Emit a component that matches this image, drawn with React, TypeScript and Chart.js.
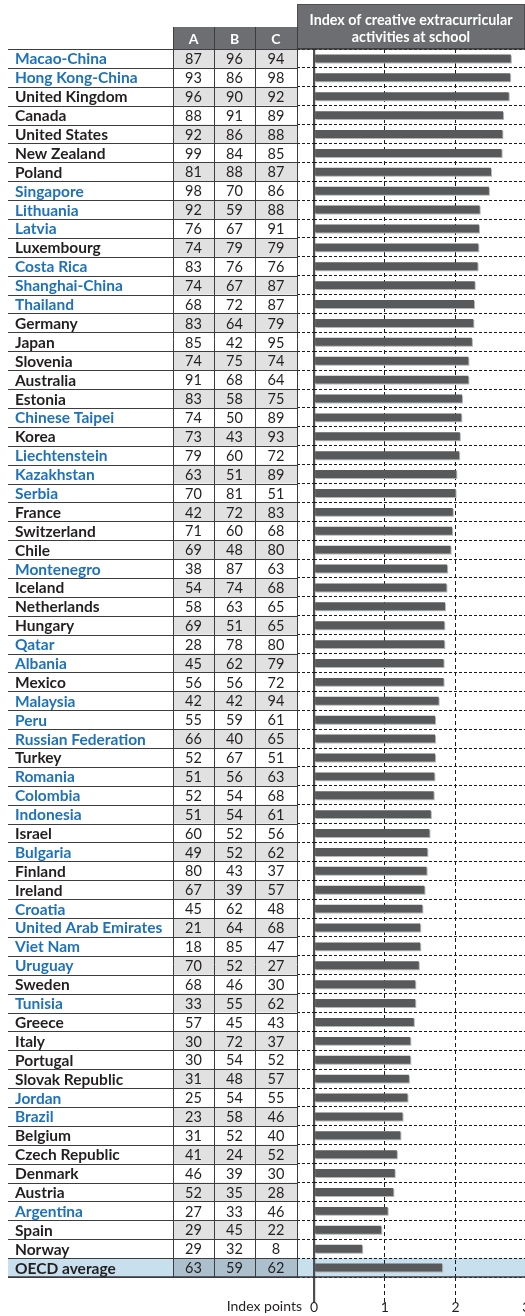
import React, { useEffect, useRef } from "react";
import { Chart, registerables } from "chart.js";

Chart.register(...registerables);

const COUNTRIES: string[] = [
  "Macao-China", "Hong Kong-China", "United Kingdom", "Canada", "United States", "New Zealand", "Poland",
  "Singapore", "Lithuania", "Latvia", "Luxembourg", "Costa Rica", "Shanghai-China", "Thailand", "Germany",
  "Japan", "Slovenia", "Australia", "Estonia", "Chinese Taipei", "Korea", "Liechtenstein", "Kazakhstan",
  "Serbia", "France", "Switzerland", "Chile", "Montenegro", "Iceland", "Netherlands", "Hungary", "Qatar",
  "Albania", "Mexico", "Malaysia", "Peru", "Russian Federation", "Turkey", "Romania", "Colombia",
  "Indonesia", "Israel", "Bulgaria", "Finland", "Ireland", "Croatia", "United Arab Emirates", "Viet Nam",
  "Uruguay", "Sweden", "Tunisia", "Greece", "Italy", "Portugal", "Slovak Republic", "Jordan", "Brazil",
  "Belgium", "Czech Republic", "Denmark", "Austria", "Argentina", "Spain", "Norway", "OECD average",
];

// 1 = partner country/economy (blue label), 0 = OECD country
const PARTNER: number[] = [
  1, 1, 0, 0, 0, 0, 0, 1, 1, 1, 0, 1, 1, 1, 0, 0, 0, 0, 0, 1, 0, 1, 1, 1, 0, 0, 0, 1, 0, 0, 0, 1,
  1, 0, 1, 1, 1, 0, 1, 1, 1, 0, 1, 0, 0, 1, 1, 1, 1, 0, 1, 0, 0, 0, 0, 1, 1, 0, 0, 0, 0, 1, 0, 0, 0,
];

const COL_A: number[] = [
  87, 93, 96, 88, 92, 99, 81, 98, 92, 76, 74, 83, 74, 68, 83, 85, 74, 91, 83, 74, 73, 79, 63, 70, 42, 71,
  69, 38, 54, 58, 69, 28, 45, 56, 42, 55, 66, 52, 51, 52, 51, 60, 49, 80, 67, 45, 21, 18, 70, 68, 33, 57,
  30, 30, 31, 25, 23, 31, 41, 46, 52, 27, 29, 29, 63,
];
const COL_B: number[] = [
  96, 86, 90, 91, 86, 84, 88, 70, 59, 67, 79, 76, 67, 72, 64, 42, 75, 68, 58, 50, 43, 60, 51, 81, 72, 60,
  48, 87, 74, 63, 51, 78, 62, 56, 42, 59, 40, 67, 56, 54, 54, 52, 52, 43, 39, 62, 64, 85, 52, 46, 55, 45,
  72, 54, 48, 54, 58, 52, 24, 39, 35, 33, 45, 32, 59,
];
const COL_C: number[] = [
  94, 98, 92, 89, 88, 85, 87, 86, 88, 91, 79, 76, 87, 87, 79, 95, 74, 64, 75, 89, 93, 72, 89, 51, 83, 68,
  80, 63, 68, 65, 65, 80, 79, 72, 94, 61, 65, 51, 63, 68, 61, 56, 62, 37, 57, 48, 68, 47, 27, 30, 62, 43,
  37, 52, 57, 55, 46, 40, 52, 30, 28, 46, 22, 8, 62,
];
const COL_HEADERS: string[] = ["A", "B", "C"];

const INDEX_VALUES: number[] = [
  2.78, 2.77, 2.75, 2.67, 2.66, 2.65, 2.5, 2.47, 2.34, 2.33, 2.32, 2.31, 2.27,
  2.26, 2.25, 2.23, 2.18, 2.18, 2.09, 2.08, 2.06, 2.05, 2.01, 2.0, 1.96, 1.95, 1.93,
  1.88, 1.87, 1.85, 1.84, 1.84, 1.83, 1.83, 1.76, 1.71, 1.71, 1.71, 1.7, 1.69,
  1.65, 1.63, 1.6, 1.59, 1.56, 1.53, 1.5, 1.5, 1.48, 1.43, 1.43, 1.41, 1.36,
  1.36, 1.34, 1.32, 1.25, 1.22, 1.17, 1.14, 1.12, 1.04, 0.95, 0.68, 1.81,
];

const TITLE_LINES: string[] = ["Index of creative extracurricular", "activities at school"];
const AXIS_LABEL = "Index points";
const X_TICKS: number[] = [0, 1, 2, 3];

// layout (styles / positions)
const CANVAS_W = 530;
const CANVAS_H = 1316;
const TABLE_LEFT = 8;
const NAME_X = 15;
const COL_EDGES = [173, 214, 255, 297];
const HEADER_TOP = 27;
const TITLE_TOP = 4;
const TITLE_RIGHT = 525;
const FONT = "Lato, 'Noto Sans', sans-serif";
const BLUE = "#1f72b8";
const DARK = "#231f20";
const HEADER_FILL = "#6d6e71";
const LINE = "#3d3d3f";

const tablePlugin = {
  id: "tablePlugin",
  beforeDraw(chart: any) {
    const { ctx } = chart;
    const y = chart.scales.y;
    const n = COUNTRIES.length;
    const half = (y.getPixelForValue(1) - y.getPixelForValue(0)) / 2;
    ctx.save();
    ctx.fillStyle = "#fff";
    ctx.fillRect(0, 0, chart.width, chart.height);
    const yo = y.getPixelForValue(n - 1);
    ctx.fillStyle = "#c8dfee";
    ctx.fillRect(TABLE_LEFT, yo - half, chart.width - TABLE_LEFT, half * 2);
    for (let i = 0; i < n; i++) {
      const yc = y.getPixelForValue(i);
      if (i === n - 1) {
        ctx.fillStyle = "#abbfcd";
        ctx.fillRect(COL_EDGES[0], yc - half, COL_EDGES[3] - COL_EDGES[0], half * 2);
      } else if (i % 2 === 0) {
        ctx.fillStyle = "#e1e1e2";
        ctx.fillRect(COL_EDGES[0], yc - half, COL_EDGES[3] - COL_EDGES[0], half * 2);
      }
    }
    const top = chart.chartArea.top;
    ctx.fillStyle = HEADER_FILL;
    ctx.fillRect(COL_EDGES[0], HEADER_TOP, COL_EDGES[3] - COL_EDGES[0], top - HEADER_TOP);
    ctx.fillRect(COL_EDGES[3], TITLE_TOP, TITLE_RIGHT - COL_EDGES[3], top - TITLE_TOP);
    ctx.strokeStyle = "#4e4e50";
    ctx.lineWidth = 1;
    ctx.strokeRect(COL_EDGES[3] + 0.5, TITLE_TOP + 0.5, TITLE_RIGHT - COL_EDGES[3] - 1, top - TITLE_TOP - 1);
    ctx.restore();
  },
  beforeDatasetsDraw(chart: any) {
    const { ctx } = chart;
    ctx.save();
    ctx.shadowColor = "#b5b6b8";
    ctx.shadowOffsetX = 1;
    ctx.shadowOffsetY = 1;
    ctx.shadowBlur = 0;
  },
  afterDatasetsDraw(chart: any) {
    chart.ctx.restore();
  },
  afterDraw(chart: any) {
    const { ctx, chartArea } = chart;
    const y = chart.scales.y;
    const x = chart.scales.x;
    const n = COUNTRIES.length;
    const half = (y.getPixelForValue(1) - y.getPixelForValue(0)) / 2;
    const top = chartArea.top;
    const bottom = chartArea.bottom;
    ctx.save();
    ctx.strokeStyle = LINE;
    ctx.lineWidth = 1;
    for (let i = 0; i <= n; i++) {
      const yy = Math.round(y.getPixelForValue(i) - half) + 0.5;
      ctx.beginPath();
      ctx.moveTo(TABLE_LEFT, yy);
      ctx.lineTo(COL_EDGES[3], yy);
      ctx.stroke();
    }
    for (let k = 0; k < COL_EDGES.length; k++) {
      const xx = COL_EDGES[k] + 0.5;
      ctx.beginPath();
      ctx.moveTo(xx, HEADER_TOP);
      ctx.lineTo(xx, bottom);
      ctx.stroke();
    }
    ctx.strokeStyle = "#3a3a3c";
    ctx.lineWidth = 1.5;
    ctx.beginPath();
    ctx.moveTo(COL_EDGES[3], top);
    ctx.lineTo(chart.width, top);
    ctx.stroke();
    ctx.beginPath();
    ctx.moveTo(TABLE_LEFT, bottom);
    ctx.lineTo(chart.width, bottom);
    ctx.stroke();

    ctx.fillStyle = "#fff";
    ctx.textAlign = "center";
    ctx.textBaseline = "middle";
    ctx.font = `bold 14px ${FONT}`;
    for (let k = 0; k < 3; k++) {
      ctx.fillText(COL_HEADERS[k], (COL_EDGES[k] + COL_EDGES[k + 1]) / 2, (HEADER_TOP + top) / 2 + 1);
    }
    ctx.font = `bold 14.3px ${FONT}`;
    const tx = (COL_EDGES[3] + TITLE_RIGHT) / 2;
    ctx.fillText(TITLE_LINES[0], tx, 20.5);
    ctx.fillText(TITLE_LINES[1], tx, 37);

    for (let i = 0; i < n; i++) {
      const yc = y.getPixelForValue(i) + 1;
      ctx.textAlign = "left";
      ctx.font = `bold 15.5px ${FONT}`;
      ctx.fillStyle = PARTNER[i] ? BLUE : DARK;
      ctx.fillText(COUNTRIES[i], NAME_X, yc);
      ctx.textAlign = "center";
      ctx.font = `14.5px ${FONT}`;
      ctx.fillStyle = DARK;
      const vals = [COL_A[i], COL_B[i], COL_C[i]];
      for (let k = 0; k < 3; k++) {
        ctx.fillText(String(vals[k]), (COL_EDGES[k] + COL_EDGES[k + 1]) / 2, yc);
      }
    }

    ctx.textAlign = "right";
    ctx.textBaseline = "top";
    ctx.font = `14px ${FONT}`;
    ctx.fillStyle = DARK;
    ctx.fillText(AXIS_LABEL, x.getPixelForValue(0) - 12, bottom + 22);
    ctx.restore();
  },
};

export default function App() {
  const ref = useRef<HTMLCanvasElement | null>(null);
  useEffect(() => {
    if (!ref.current) return;
    const chart = new Chart(ref.current, {
      type: "bar",
      data: {
        labels: COUNTRIES,
        datasets: [
          {
            data: INDEX_VALUES,
            backgroundColor: "#58595b",
            borderWidth: 0,
            barPercentage: 0.42,
            categoryPercentage: 1,
          },
        ],
      },
      options: {
        indexAxis: "y",
        responsive: false,
        animation: false,
        devicePixelRatio: 1,
        layout: { padding: { left: 297, top: 49, right: 3.6, bottom: 0 } },
        plugins: { legend: { display: false }, tooltip: { enabled: false } },
        scales: {
          x: {
            min: X_TICKS[0],
            max: X_TICKS[X_TICKS.length - 1],
            afterBuildTicks: (s: any) => {
              s.ticks = X_TICKS.map((v) => ({ value: v }));
            },
            afterFit: (s: any) => {
              s.height = 39;
            },
            ticks: {
              font: { family: FONT, size: 14 },
              color: DARK,
              padding: -4,
              maxRotation: 0,
              autoSkip: false,
            },
            grid: {
              color: (c: any) => (c.tick && c.tick.value === 0 ? "#4d4d4f" : "#1a1a1a"),
              tickColor: (c: any) => (c.tick && c.tick.value === 0 ? "#4d4d4f" : "#1a1a1a"),
              lineWidth: (c: any) => (c.tick && c.tick.value === 0 ? 2.2 : 1),
              tickWidth: (c: any) => (c.tick && c.tick.value === 0 ? 2.2 : 1),
              tickLength: 26,
              tickBorderDash: (c: any) => (c.tick && c.tick.value === 0 ? [] : [4, 3]),
            },
            border: {
              display: false,
              dash: (c: any) => (c.tick && c.tick.value === 0 ? [] : [4, 3]),
            },
          },
          y: {
            afterFit: (s: any) => {
              s.width = 17;
            },
            ticks: { display: false },
            grid: {
              offset: true,
              color: "#1a1a1a",
              lineWidth: 1,
              tickLength: 17,
              tickColor: "#1a1a1a",
              tickBorderDash: [3, 2],
            },
            border: { display: false, dash: [3, 2] },
          },
        },
      },
      plugins: [tablePlugin],
    } as any);
    return () => chart.destroy();
  }, []);
  return (
    <div
      style={{
        position: "absolute",
        left: 0,
        top: 0,
        width: 525,
        height: CANVAS_H,
        overflow: "hidden",
        background: "#fff",
      }}
    >
      <canvas ref={ref} width={CANVAS_W} height={CANVAS_H} style={{ width: CANVAS_W, height: CANVAS_H, display: "block" }} />
    </div>
  );
}
